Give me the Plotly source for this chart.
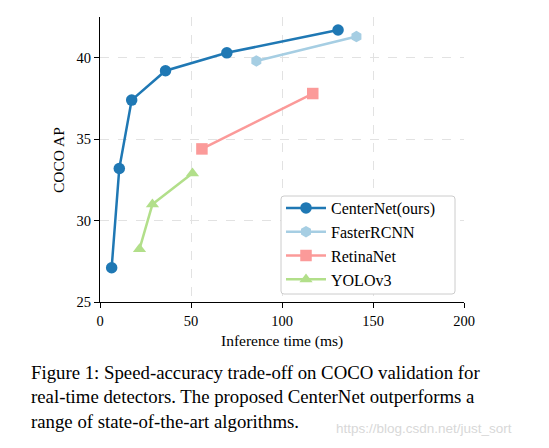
import plotly.graph_objects as go

# inference time (ms) and COCO AP
centernet_x = [6.4, 10.6, 17.4, 36.0, 69.7, 130.8]
centernet_y = [27.1, 33.2, 37.4, 39.2, 40.3, 41.7]
faster_x = [85.9, 140.9]
faster_y = [39.8, 41.3]
retina_x = [56.0, 116.9]
retina_y = [34.4, 37.8]
yolo_x = [21.7, 28.8, 50.8]
yolo_y = [28.25, 31.0, 32.9]

x_ticks = [0, 50, 100, 150, 200]
y_ticks = [25, 30, 35, 40]

serif = "Liberation Serif"

# the page puts the figure 8px in from the top-left, so the margins are trimmed by that
W, H = 549, 448
L, T, PW, PH = 92, 9, 364, 285

def px(x):
    # page pixel -> paper x
    return (x - 8 - L) / PW

def py(y):
    # page pixel -> paper y
    return (T + PH - (y - 8)) / PH

series = [
    ("CenterNet(ours)", centernet_x, centernet_y, "#1f78b4", "circle"),
    ("FasterRCNN", faster_x, faster_y, "#a6cee3", "hexagon"),
    ("RetinaNet", retina_x, retina_y, "#fb9a99", "square"),
    ("YOLOv3", yolo_x, yolo_y, "#b2df8a", "triangle-up"),
]

fig = go.Figure()
for name, xs, ys, col, sym in series:
    fig.add_trace(go.Scatter(
        x=xs, y=ys, mode="lines+markers", name=name,
        line=dict(color=col, width=2.5),
        marker=dict(color=col, symbol=sym, size=11.5),
    ))

axis_common = dict(
    showline=True, linecolor="black", linewidth=1.2,
    ticks="outside", ticklen=5, tickcolor="black",
    showgrid=True, gridcolor="#e2e2e2", griddash="dash", gridwidth=1,
    zeroline=False, mirror=False, automargin=False,
    tickfont=dict(family=serif, size=14.5, color="black"),
)

# legend frame drawn as a rounded box, like matplotlib's
x0, x1, y0, y1 = px(281), px(455), py(294), py(196)
rx, ry = 3 / PW, 3 / PH
frame = (f"M {x0+rx},{y0} L {x1-rx},{y0} Q {x1},{y0} {x1},{y0+ry} "
         f"L {x1},{y1-ry} Q {x1},{y1} {x1-rx},{y1} "
         f"L {x0+rx},{y1} Q {x0},{y1} {x0},{y1-ry} "
         f"L {x0},{y0+ry} Q {x0},{y0} {x0+rx},{y0} Z")

fig.update_layout(
    width=W, height=H,
    margin=dict(l=L, r=W - L - PW, t=T, b=H - T - PH),
    plot_bgcolor="white", paper_bgcolor="white",
    font=dict(family=serif, color="black"),
    xaxis=dict(range=[0, 200], tickvals=x_ticks, **axis_common),
    yaxis=dict(range=[25, 42.5], tickvals=y_ticks, **axis_common),
    legend=dict(x=px(281), y=py(191), xanchor="left", yanchor="top",
                bgcolor="rgba(0,0,0,0)", borderwidth=0,
                font=dict(family=serif, size=16), itemwidth=40,
                tracegroupgap=0),
    shapes=[dict(type="path", xref="paper", yref="paper", path=frame,
                 fillcolor="white", line=dict(color="#cccccc", width=1),
                 layer="above")],
)

# axis titles
fig.add_annotation(text="Inference time (ms)", xref="paper", yref="paper",
                   x=px(282), y=py(341), xanchor="center", yanchor="middle",
                   showarrow=False, font=dict(family=serif, size=15.5))
fig.add_annotation(text="COCO AP", xref="paper", yref="paper",
                   x=px(58), y=py(160), xanchor="center", yanchor="middle",
                   textangle=-90, showarrow=False, font=dict(family=serif, size=15.5))

caption = ("Figure 1: Speed-accuracy trade-off on COCO validation for<br>"
           "real-time detectors. The proposed CenterNet outperforms a<br>"
           "range of state-of-the-art algorithms.")
fig.add_annotation(
    text=caption, xref="paper", yref="paper", x=px(29), y=py(397),
    xanchor="left", yanchor="middle", align="left", showarrow=False,
    font=dict(family=serif, size=18.8, color="black"),
)
fig.add_annotation(
    text="https://blog.csdn.net/just_sort", xref="paper", yref="paper",
    x=px(514), y=py(428), xanchor="right", yanchor="middle", showarrow=False,
    font=dict(family="Liberation Sans", size=13.5, color="#d8d8d8"),
)

fig.write_html("out.html")
